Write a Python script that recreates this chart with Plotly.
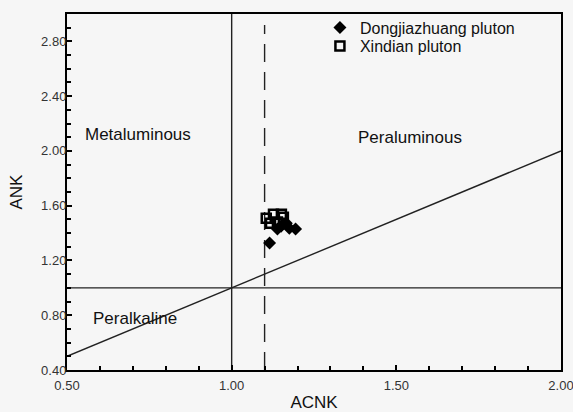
import plotly.graph_objects as go

# Data
dong_acnk = [1.115, 1.139, 1.166, 1.175, 1.194, 1.150]
dong_ank = [1.327, 1.429, 1.472, 1.436, 1.429, 1.450]
xin_acnk = [1.105, 1.127, 1.151, 1.118, 1.139, 1.157]
xin_ank = [1.509, 1.538, 1.538, 1.472, 1.480, 1.516]

# Classification boundaries
acnk_boundary = 1.0
ank_boundary = 1.0
acnk_dashed = 1.1
diag_acnk = [0.5, 2.0]
diag_ank = [0.5, 2.0]

x_range = [0.5, 2.0]
y_range = [0.4, 3.0]

FONT = "Liberation Sans, Arial"

fig = go.Figure()

fig.add_trace(go.Scatter(
    x=dong_acnk, y=dong_ank, mode="markers", name="Dongjiazhuang pluton",
    marker=dict(symbol="diamond", size=10, color="black"), legend="legend",
))
fig.add_trace(go.Scatter(
    x=xin_acnk, y=xin_ank, mode="markers", name="Xindian pluton",
    marker=dict(symbol="square-open", size=9, color="black", line=dict(width=2.5, color="black")),
    legend="legend2",
))

line_style = dict(color="#222222", width=1.4)
fig.add_shape(type="line", xref="x", yref="y", x0=acnk_boundary, x1=acnk_boundary,
              y0=y_range[0], y1=y_range[1], line=line_style, layer="below")
fig.add_shape(type="line", xref="x", yref="y", x0=x_range[0], x1=x_range[1],
              y0=ank_boundary, y1=ank_boundary, line=line_style, layer="below")
fig.add_shape(type="line", xref="x", yref="y", x0=diag_acnk[0], x1=diag_acnk[1],
              y0=diag_ank[0], y1=diag_ank[1], line=line_style, layer="below")
fig.add_shape(type="line", xref="x", yref="y", x0=acnk_dashed, x1=acnk_dashed,
              y0=y_range[0], y1=2.92,
              line=dict(color="#222222", width=1.4, dash="18px,10px"), layer="below")

label_font = dict(family=FONT, size=17, color="#111111")
for txt, ax, ay in [("Metaluminous", 0.716, 2.117),
                    ("Peraluminous", 1.543, 2.096),
                    ("Peralkaline", 0.707, 0.777)]:
    fig.add_annotation(x=ax, y=ay, xref="x", yref="y", text=txt, showarrow=False, font=label_font)

axis_common = dict(
    showline=True, linewidth=2, linecolor="black", mirror=True,
    ticks="inside", ticklen=5, tickwidth=1.5, tickcolor="black",
    showgrid=False, zeroline=False, tickformat=".2f", automargin=False,
    ticklabeloverflow="allow",
    tickfont=dict(family=FONT, size=13, color="#333333"),
    title_font=dict(family=FONT, size=17, color="#111111"),
)

fig.update_xaxes(range=x_range, tickmode="linear", tick0=0.5, dtick=0.5,
                 minor=dict(dtick=0.1, ticks="inside", ticklen=4, tickcolor="black"),
                 ticklabelstandoff=2,
                 title_text="ACNK", title_standoff=10, **axis_common)
fig.update_yaxes(range=y_range, tickmode="linear", tick0=0.4, dtick=0.4,
                 minor=dict(dtick=0.1, ticks="inside", ticklen=4, tickcolor="black"),
                 ticklabelstandoff=-4,
                 title_text="ANK", title_standoff=14, **axis_common)

leg_font = dict(family=FONT, size=16, color="#111111")
fig.update_layout(
    width=573, height=412,
    margin=dict(l=67, r=12, t=11, b=42),
    paper_bgcolor="#f6f6f6", plot_bgcolor="#f6f6f6",
    showlegend=True,
    legend=dict(x=0.512, y=0.962, xanchor="left", yanchor="middle",
                bgcolor="rgba(0,0,0,0)", itemwidth=30, font=leg_font),
    legend2=dict(x=0.512, y=0.910, xanchor="left", yanchor="middle",
                 bgcolor="rgba(0,0,0,0)", itemwidth=30, font=leg_font),
)

fig.write_html("out.html")
